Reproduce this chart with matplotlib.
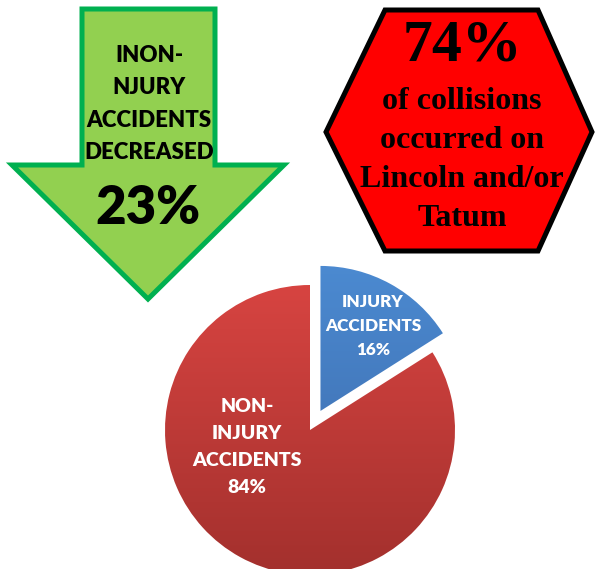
import matplotlib
matplotlib.use("Agg")
import matplotlib.pyplot as plt
import numpy as np
from matplotlib.patches import Polygon
from matplotlib.colors import LinearSegmentedColormap

# ---- data ----
pie_labels = ["INJURY\nACCIDENTS\n16%", "NON-\nINJURY\nACCIDENTS\n84%"]
pie_values = [16, 84]
arrow_text = "INON-\nNJURY\nACCIDENTS\nDECREASED"
arrow_value = "23%"
hex_value = "74%"
hex_text = ["of collisions", "occurred on", "Lincoln and/or", "Tatum"]

W, H = 597, 569
fig = plt.figure(figsize=(W / 100, H / 100), dpi=100)
fig.patch.set_facecolor("white")

# pixel-coordinate axes for the infographic shapes
ax0 = fig.add_axes([0, 0, 1, 1])
ax0.set_xlim(0, W)
ax0.set_ylim(H, 0)
ax0.axis("off")

# green arrow
arrow_pts = [(82, 9), (215, 9), (215, 165), (284, 165), (148, 299), (12, 165), (82, 165)]
ax0.add_patch(Polygon(arrow_pts, closed=True, facecolor="#92d050", edgecolor="#00b050",
                      linewidth=3.6, joinstyle="miter", zorder=1))
sans = ["Lato", "DejaVu Sans"]
ax0.text(149, 104, arrow_text, ha="center", va="center", fontsize=16, fontweight="heavy",
         family=sans, linespacing=1.65, color="black", zorder=3)
ax0.text(148, 208, arrow_value, ha="center", va="center", fontsize=38, fontweight="heavy",
         family=sans, color="black", zorder=3)

# red hexagon
hex_pts = [(385, 10), (538, 10), (592, 132), (538, 251), (385, 251), (326, 132)]
ax0.add_patch(Polygon(hex_pts, closed=True, facecolor="#ff0000", edgecolor="black",
                      linewidth=3.6, joinstyle="miter", zorder=1))
serif = ["Liberation Serif", "DejaVu Serif"]
ax0.text(462, 46, hex_value, ha="center", va="center", fontsize=43, fontweight="bold",
         family=serif, color="black", zorder=3)
for i, line in enumerate(hex_text):
    ax0.text(462, 101 + i * 39, line, ha="center", va="center", fontsize=23, fontweight="bold",
             family=serif, color="black", zorder=3)

# pie chart
cx, cy, R = 310, 430, 145
lim = 1.3
size = 2 * lim * R
axp = fig.add_axes([(cx - size / 2) / W, (H - cy - size / 2) / H, size / W, size / H])
wedges, _ = axp.pie(pie_values, startangle=90, counterclock=False, explode=[0.15, 0],
                    colors=["#4a86c8", "#d0403d"], radius=1)
axp.set_xlim(-lim, lim)
axp.set_ylim(-lim, lim)
axp.set_aspect("equal")
axp.axis("off")

grads = [LinearSegmentedColormap.from_list("b", ["#3a66a6", "#4c8bd2"]),
         LinearSegmentedColormap.from_list("r", ["#a3302d", "#dc4643"])]
yy = np.linspace(0, 1, 256).reshape(-1, 1)
for w, cm in zip(wedges, grads):
    im = axp.imshow(yy, cmap=cm, origin="lower", extent=[-1.2, 1.2, -1.0, 1.2],
                    aspect="auto", zorder=2)
    im.set_clip_path(w)
    w.set_facecolor("none")
axp.set_xlim(-lim, lim)
axp.set_ylim(-lim, lim)

axp.text(0.434, 0.717, pie_labels[0], ha="center", va="center", fontsize=12.3, fontweight="heavy",
         family=sans, color="white", linespacing=1.63, zorder=5)
axp.text(-0.434, -0.117, pie_labels[1], ha="center", va="center", fontsize=14, fontweight="heavy",
         family=sans, color="white", linespacing=1.72, zorder=5)

fig.savefig("out.png", dpi=100, facecolor="white")
